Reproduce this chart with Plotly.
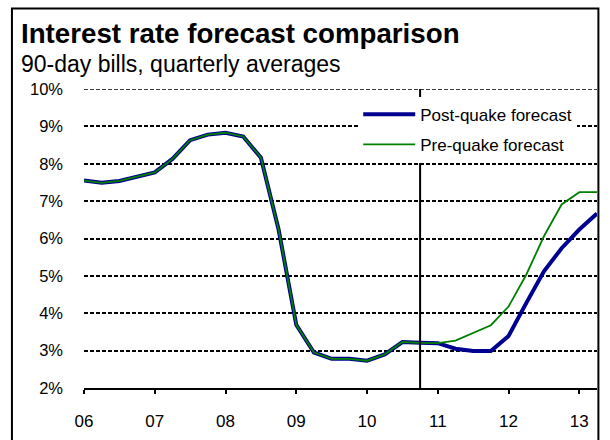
import plotly.graph_objects as go

# Quarterly time axis (decimal years, start of each quarter)
quarters = [
    2006.0, 2006.25, 2006.5, 2006.75,
    2007.0, 2007.25, 2007.5, 2007.75,
    2008.0, 2008.25, 2008.5, 2008.75,
    2009.0, 2009.25, 2009.5, 2009.75,
    2010.0, 2010.25, 2010.5, 2010.75,
    2011.0, 2011.25, 2011.5, 2011.75,
    2012.0, 2012.25, 2012.5, 2012.75,
    2013.0, 2013.25,
]

# 90-day bill rates, % (quarterly averages)
post_quake = [
    7.55, 7.49, 7.54, 7.65,
    7.77, 8.13, 8.63, 8.78,
    8.83, 8.73, 8.16, 6.24,
    3.69, 2.95, 2.78, 2.78,
    2.73, 2.90, 3.23, 3.21,
    3.20, 3.05, 2.99, 2.99,
    3.39, 4.27, 5.12, 5.74,
    6.24, 6.67,
]
pre_quake = [
    7.55, 7.49, 7.54, 7.65,
    7.77, 8.13, 8.63, 8.78,
    8.83, 8.73, 8.16, 6.24,
    3.69, 2.95, 2.78, 2.78,
    2.73, 2.90, 3.23, 3.21,
    3.20, 3.27, 3.47, 3.68,
    4.18, 5.03, 6.06, 6.91,
    7.24, 7.24,
]

year_ticks = [2006, 2007, 2008, 2009, 2010, 2011, 2012, 2013]
year_labels = ["06", "07", "08", "09", "10", "11", "12", "13"]
rate_ticks = [2, 3, 4, 5, 6, 7, 8, 9, 10]
rate_labels = ["2%", "3%", "4%", "5%", "6%", "7%", "8%", "9%", "10%"]
forecast_start = 2010.75
x_min, x_max = 2006, 2013.25
y_min, y_max = 2, 10

W, H = 610, 440
L, R, T, B = 84, 13.4, 89.3, 52
PW, PH = W - L - R, H - T - B


def px_x(px):
    return (px - L) / PW


def px_y(py):
    return (H - B - py) / PH


FONT = "Liberation Sans, Arial, sans-serif"

fig = go.Figure()
fig.add_trace(go.Scatter(
    x=quarters, y=post_quake, mode="lines", name="Post-quake forecast",
    line=dict(color="#000090", width=4), legendgroup="post",
))
fig.add_trace(go.Scatter(
    x=quarters, y=pre_quake, mode="lines", name="Pre-quake forecast",
    line=dict(color="#008000", width=1.8), legendgroup="pre",
))

# Top gridline sits on the range edge, so draw it explicitly
fig.add_shape(type="line", xref="x", yref="y",
              x0=x_min, x1=x_max, y0=y_max, y1=y_max,
              line=dict(color="black", width=1.5, dash="4px,2px"),
              layer="below")

# Marker separating history from forecast
fig.add_shape(type="line", xref="x", yref="y",
              x0=forecast_start, x1=forecast_start, y0=y_min, y1=y_max,
              line=dict(color="black", width=2), layer="above")

# Outer frame
fig.add_shape(type="rect", xref="paper", yref="paper",
              x0=px_x(12), x1=px_x(598), y0=px_y(446), y1=px_y(9),
              line=dict(color="black", width=2), fillcolor="rgba(0,0,0,0)",
              layer="above")

fig.add_annotation(text="<b>Interest rate forecast comparison</b>",
                   xref="paper", yref="paper", x=px_x(19), y=px_y(34),
                   xanchor="left", yanchor="middle", showarrow=False,
                   font=dict(family=FONT, size=27.7, color="black"))
fig.add_annotation(text="90-day bills, quarterly averages",
                   xref="paper", yref="paper", x=px_x(19), y=px_y(64),
                   xanchor="left", yanchor="middle", showarrow=False,
                   font=dict(family=FONT, size=23, color="black"))

fig.update_layout(
    width=W, height=H,
    margin=dict(l=L, r=R, t=T, b=B, pad=0, autoexpand=False),
    paper_bgcolor="white", plot_bgcolor="white",
    font=dict(family=FONT, size=17, color="black"),
    showlegend=True,
    legend=dict(
        x=px_x(358), y=px_y(97), xanchor="left", yanchor="top",
        bgcolor="white", borderwidth=0,
        font=dict(family=FONT, size=17, color="black"),
        traceorder="grouped", tracegroupgap=5, itemwidth=52,
    ),
    xaxis=dict(
        range=[x_min, x_max], tickvals=year_ticks, ticktext=year_labels,
        showgrid=False, zeroline=False, automargin=False,
        showline=True, linecolor="black", linewidth=2,
        ticks="outside", ticklen=4, tickwidth=1.5, tickcolor="black",
        ticklabelstandoff=13, tickfont=dict(size=17),
    ),
    yaxis=dict(
        range=[y_min, y_max], tickvals=rate_ticks, ticktext=rate_labels,
        showgrid=True, gridcolor="black", gridwidth=1.5, griddash="4px,2px",
        zeroline=False, showline=False, ticks="", automargin=False,
        ticklabelstandoff=20, tickfont=dict(size=16.5),
    ),
)

fig.write_html("out.html")
